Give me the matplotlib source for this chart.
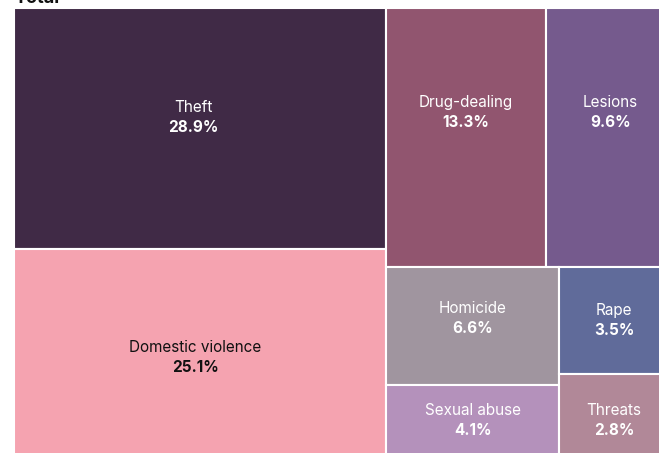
import matplotlib
matplotlib.use("Agg")
import matplotlib.pyplot as plt
from matplotlib.patches import Rectangle

plt.rcParams['font.family'] = ['Inter', 'DejaVu Sans']

# share of total crimes, in percent
theft = 28.9
domestic = 25.1
drug = 13.3
lesions = 9.6
homicide = 6.6
sexual = 4.1
rape = 3.5
threats = 2.8

names = ["Theft", "Domestic violence", "Drug-dealing", "Lesions",
         "Homicide", "Sexual abuse", "Rape", "Threats"]
values = [theft, domestic, drug, lesions, homicide, sexual, rape, threats]
colors = ["#402a46", "#f5a3b0", "#91556f", "#755a8d",
          "#a0959f", "#b491bb", "#606b9a", "#b18898"]
text_colors = ["white", "#111111", "white", "white",
               "white", "white", "white", "white"]
# small nudges (px) of each label block from its tile centre
label_dx = [-7, -5, 0, 7, 0, 0, 4, 4]
label_dy = [-11, 3, -25, -25, -8, -2, 0, 4]

fig = plt.figure(figsize=(6.59, 4.53), dpi=100)
ax = fig.add_axes([0, 0, 1, 1])
ax.set_xlim(0, 659)
ax.set_ylim(453, 0)
ax.axis("off")

# treemap frame in pixels (runs a little past the right and bottom edge)
x0, y0, W, H = 14, 8, 647, 451
total = sum(values)


def layout():
    rects = []
    left_w = W * (theft + domestic) / total
    h_theft = H * theft / (theft + domestic)
    rects.append((x0, y0, left_w, h_theft))
    rects.append((x0, y0 + h_theft, left_w, H - h_theft))

    rx = x0 + left_w
    rw = W - left_w
    right_total = drug + lesions + homicide + sexual + rape + threats
    top_h = H * (drug + lesions) / right_total
    w_drug = rw * drug / (drug + lesions)
    rects.append((rx, y0, w_drug, top_h))
    rects.append((rx + w_drug, y0, rw - w_drug, top_h))

    by = y0 + top_h
    bh = H - top_h
    rest = homicide + sexual + rape + threats
    w_c1 = rw * (homicide + sexual) / rest
    h_hom = bh * homicide / (homicide + sexual)
    rects.append((rx, by, w_c1, h_hom))
    rects.append((rx, by + h_hom, w_c1, bh - h_hom))
    h_rape = bh * rape / (rape + threats)
    rects.append((rx + w_c1, by, rw - w_c1, h_rape))
    rects.append((rx + w_c1, by + h_rape, rw - w_c1, bh - h_rape))
    return rects


for (x, y, w, h), name, v, c, tc, dx, dy in zip(layout(), names, values, colors,
                                                 text_colors, label_dx, label_dy):
    ax.add_patch(Rectangle((x, y), w, h, facecolor=c, edgecolor="white",
                           linewidth=1.5))
    cx = x + w / 2 + dx
    cy = y + h / 2 + dy
    ax.text(cx, cy - 10, name, ha="center", va="center", color=tc, fontsize=11)
    ax.text(cx, cy + 10, f"{v:.1f}%", ha="center", va="center", color=tc,
            fontsize=11, fontweight="bold")

ax.text(14, 3, "Total", ha="left", va="baseline", fontsize=13,
        fontweight="bold", color="#111111", clip_on=False)

fig.savefig("out.png", dpi=100)
